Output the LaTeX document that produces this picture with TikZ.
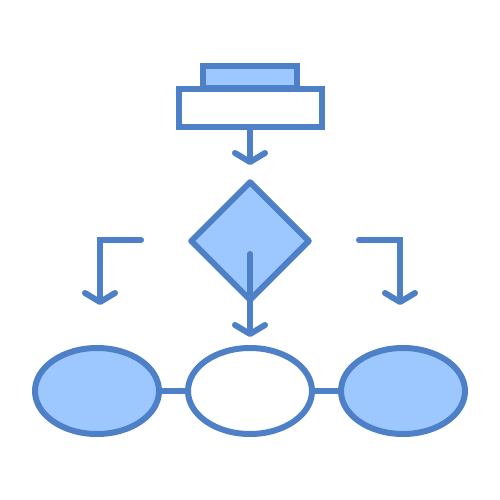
\documentclass[tikz,border=0pt]{standalone}
\usetikzlibrary{arrows.meta,positioning,shapes.geometric}
\definecolor{iconline}{RGB}{78,128,200}
\definecolor{iconfill}{RGB}{157,200,255}
\tikzset{
  shp/.style  ={draw=iconline,line width=6pt,inner sep=0pt},
  blk/.style  ={shp,rectangle,fill=white},
  blkf/.style ={shp,rectangle,fill=iconfill},
  dec/.style  ={shp,diamond,fill=iconfill,minimum width=120pt,
                minimum height=120pt,line join=round},
  ovl/.style  ={shp,ellipse,minimum width=124pt,minimum height=86pt},
  flow/.style ={draw=iconline,line width=6pt,line cap=round,
                -{Straight Barb[length=9pt,width=30pt,round]}},
  link/.style ={draw=iconline,line width=6pt},
}
\begin{document}
\begin{tikzpicture}[x=1pt,y=-1pt,node distance=23pt]
  \useasboundingbox (0,0) rectangle (500,500);
  \node[blkf,minimum width=94pt,minimum height=22pt] (lid) at (250,77.5) {};
  \node[blk,minimum width=143pt,minimum height=38pt] (inp) at (250,108) {};
  \node[dec] (dec) at (250,241) {};
  \node[ovl,fill=white] (omid) at (250,391) {};
  \node[ovl,fill=iconfill,left=of omid] (oleft) {};
  \node[ovl,fill=iconfill,right=of omid] (oright) {};

  \coordinate (tend) at (250,165);
  \coordinate (dstart) at (250,254);
  \coordinate (dend) at (250,337);
  \coordinate (lstart) at (141,240);
  \coordinate (lend) at (100,305);
  \coordinate (rstart) at (359,240);
  \coordinate (rend) at (400,305);

  \draw[flow] (inp) -- (tend);
  \draw[flow] (dstart) -- (dend);
  \draw[flow] (lstart) -- (lstart -| lend) -- (lend);
  \draw[flow] (rstart) -- (rstart -| rend) -- (rend);
  \draw[link] (oleft) -- (omid);
  \draw[link] (omid) -- (oright);
\end{tikzpicture}
\end{document}
